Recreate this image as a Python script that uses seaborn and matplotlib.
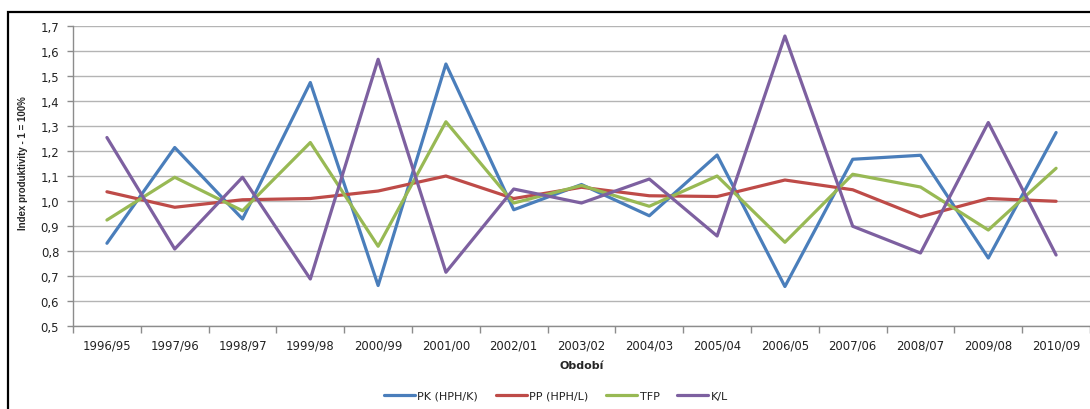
import pandas as pd
import matplotlib.pyplot as plt
import seaborn as sns
from matplotlib.patches import Rectangle
from matplotlib.ticker import FuncFormatter, MultipleLocator, FixedLocator

# ===== data =====
periods = ['1996/95', '1997/96', '1998/97', '1999/98', '2000/99', '2001/00', '2002/01',
           '2003/02', '2004/03', '2005/04', '2006/05', '2007/06', '2008/07', '2009/08', '2010/09']
pk = [0.831, 1.214, 0.928, 1.474, 0.662, 1.548, 0.965, 1.066, 0.941, 1.184,
      0.658, 1.167, 1.183, 0.772, 1.274]
pp = [1.037, 0.975, 1.005, 1.01, 1.04, 1.1, 1.01, 1.055, 1.021, 1.018,
      1.084, 1.045, 0.937, 1.01, 0.999]
tfp = [0.924, 1.095, 0.961, 1.234, 0.819, 1.317, 0.992, 1.062, 0.979, 1.1,
       0.835, 1.107, 1.056, 0.884, 1.131]
kl = [1.254, 0.808, 1.095, 0.688, 1.567, 0.715, 1.048, 0.992, 1.088, 0.86,
      1.66, 0.899, 0.792, 1.314, 0.784]
series_names = ['PK (HPH/K)', 'PP (HPH/L)', 'TFP', 'K/L']
colors = ['#4A7EBB', '#BE4B48', '#98B954', '#7D60A0']

df = pd.DataFrame({'Období': periods * 4,
                   'index': pk + pp + tfp + kl,
                   'serie': [s for s in series_names for _ in periods]})

sns.set_theme(style='white')
plt.rcParams['font.family'] = ['DejaVu Sans']

fig = plt.figure(figsize=(10.9, 4.1), dpi=100)
ax = fig.add_axes([0.067, 0.2024, 0.933, 0.7317])

sns.lineplot(data=df, x='Období', y='index', hue='serie', palette=colors,
             linewidth=2.3, sort=False, legend=True, ax=ax)

ax.set_xlim(-0.5, len(periods) - 0.5)
ax.set_ylim(0.5, 1.7)
ax.yaxis.set_major_locator(MultipleLocator(0.1))
ax.yaxis.set_major_formatter(FuncFormatter(lambda v, p: f'{v:.1f}'.replace('.', ',')))
ax.grid(axis='y', color='#B4B4B4', linewidth=1)
ax.set_axisbelow(True)

for side in ['top', 'right']:
    ax.spines[side].set_visible(False)
for side in ['left', 'bottom']:
    ax.spines[side].set_color('#8C8C8C')
    ax.spines[side].set_linewidth(1)

# tick marks between categories, labels centred
ax.xaxis.set_minor_locator(FixedLocator([i - 0.5 for i in range(len(periods) + 1)]))
ax.tick_params(axis='x', which='major', length=0, pad=9, labelsize=8.4, labelcolor='#222222')
ax.tick_params(axis='x', which='minor', length=5, color='#8C8C8C', width=1, bottom=True)
ax.tick_params(axis='y', which='major', length=4, color='#8C8C8C', width=1, left=True,
               labelsize=8.4, labelcolor='#222222', pad=6)

ax.set_xlabel('Období', fontsize=8, fontweight='bold', labelpad=6)
ax.set_ylabel('')
fig.text(0.021, 0.603, 'Index produktivity - 1 = 100%', rotation=90, ha='center', va='center',
         fontsize=7, fontweight='bold', family=['Liberation Sans', 'DejaVu Sans'])

handles, labels = ax.get_legend_handles_labels()
ax.get_legend().remove()
leg = fig.legend(handles, labels, loc='center', bbox_to_anchor=(0.51, 0.032), ncol=4,
                 frameon=False, fontsize=8, handlelength=2.8, handletextpad=0.2,
                 columnspacing=1.6)
for t in leg.get_texts():
    t.set_color('#222222')

# black outer frame
fig.patches.append(Rectangle((0.0075, -0.1), 1.1, 1.068, transform=fig.transFigure,
                             fill=False, edgecolor='black', linewidth=1.6, zorder=0))

plt.savefig('out.png', dpi=100)
